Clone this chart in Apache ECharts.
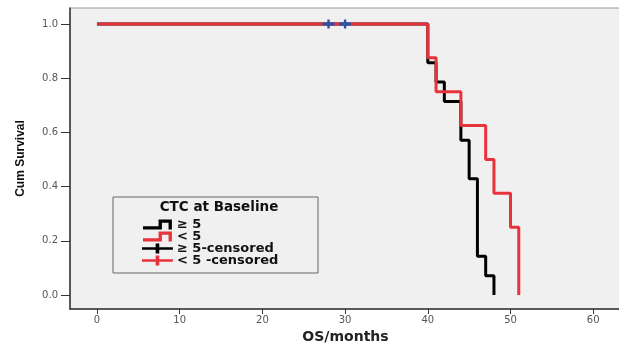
<!DOCTYPE html>
<html>
<head>
<meta charset="utf-8">
<script src="https://cdn.jsdelivr.net/npm/echarts@6/dist/echarts.min.js"></script>
<style>
    html, body { margin: 0; padding: 0; background: #fff; }
    #chart { width: 619px; height: 345px; }
</style>
</head>
<body>
<div id="chart"></div>
<script>
// 生存曲线数据 (月, 累计生存率)
var highCtc = [[0, 1], [40, 0.857], [41, 0.786], [42, 0.714], [44, 0.571], [45, 0.429], [46, 0.143], [47, 0.071], [48, 0]]
var lowCtc = [[0, 1], [40, 0.875], [41, 0.75], [44, 0.625], [47, 0.5], [48, 0.375], [50, 0.25], [51, 0]]
var censored = [[28, 1], [30, 1]]
var xTicks = [0, 10, 20, 30, 40, 50, 60]
var yTicks = [0, 0.2, 0.4, 0.6, 0.8, 1.0]
var legendNames = ['≥ 5', '< 5', '≥ 5-censored', '< 5 -censored']

var stepIcon = 'path://M0,7 L14,7 L14,1 L26,1 L26,10 L23,10 L23,4 L17,4 L17,10 L0,10 Z'
var crossIcon = 'path://M0,4 L15,4 L15,0 L19,0 L19,4 L34,4 L34,7 L19,7 L19,11 L15,11 L15,7 L0,7 Z'
var plusMark = 'path://M0,3 L4,3 L4,0 L6,0 L6,3 L10,3 L10,6 L6,6 L6,9 L4,9 L4,6 L0,6 Z'

var chart = echarts.init(document.getElementById('chart'))
var tickFont = { fontFamily: 'DejaVu Sans', fontSize: 10, color: '#555' }

//图例只用空的散点系列, 图标按自定义 path 画
function legendSeries(name, color) {
    return { name: name, type: 'scatter', data: [], itemStyle: { color: color, opacity: 1 } }
}

var option = {
    animation: false,
    backgroundColor: '#fff',
    grid: {
        left: 70,
        top: 8,
        right: -2,
        bottom: 36,
        outerBoundsMode: 'none',
        containLabel: false,
        show: true,
        backgroundColor: '#f0f0f0',
        borderColor: '#999',
        borderWidth: 1,
    },
    xAxis: {
        type: 'value',
        min: -3.26,
        max: 63.36,
        name: 'OS/months',
        nameLocation: 'middle',
        nameGap: 21,
        nameMoveOverlap: false,
        nameTextStyle: { fontFamily: 'DejaVu Sans', fontWeight: 'bold', fontSize: 14, color: '#222' },
        axisLine: { onZero: false, lineStyle: { color: '#333', width: 1.5 } },
        axisTick: { show: true, length: 5, customValues: xTicks, lineStyle: { color: '#333' } },
        axisLabel: Object.assign({ customValues: xTicks, margin: 6 }, tickFont),
        splitLine: { show: false },
    },
    yAxis: {
        type: 'value',
        min: -0.0517,
        max: 1.059,
        name: 'Cum Survival',
        nameLocation: 'middle',
        nameRotate: 90,
        nameGap: 43,
        nameMoveOverlap: false,
        nameTextStyle: { fontFamily: 'Liberation Sans', fontWeight: 'bold', fontSize: 12, color: '#111' },
        axisLine: { show: true, onZero: false, lineStyle: { color: '#333', width: 1.5 } },
        axisTick: { show: true, length: 9, customValues: yTicks, lineStyle: { color: '#333' } },
        axisLabel: Object.assign({
            customValues: yTicks,
            margin: 12,
            formatter: function (v) { return v.toFixed(1) }
        }, tickFont),
        splitLine: { show: false },
    },
    graphic: [
        {
            type: 'rect',
            shape: { x: 113, y: 197, width: 205, height: 76 },
            style: { fill: '#f0f0f0', stroke: '#666', lineWidth: 1 },
            z: 5,
        },
        {
            type: 'text',
            x: 219,
            y: 207,
            style: {
                text: 'CTC at Baseline',
                font: 'bold 13.5px "DejaVu Sans"',
                fill: '#111',
                align: 'center',
                verticalAlign: 'middle',
            },
            z: 6,
        },
    ],
    legend: {
        orient: 'vertical',
        left: 142,
        top: 218,
        padding: 0,
        itemGap: -1,
        itemWidth: 35,
        itemHeight: 10,
        z: 10,
        textStyle: {
            fontFamily: 'DejaVu Sans',
            fontWeight: 'bold',
            fontSize: 13,
            color: '#111',
            padding: [0, 0, 0, -3]
        },
        data: [
            { name: legendNames[0], icon: stepIcon },
            { name: legendNames[1], icon: stepIcon },
            { name: legendNames[2], icon: crossIcon },
            { name: legendNames[3], icon: crossIcon },
        ],
    },
    series: [
        {
            name: 'high-line',
            type: 'line',
            step: 'end',
            data: highCtc,
            showSymbol: false,
            lineStyle: { color: '#000', width: 3 },
        },
        {
            name: 'low-line',
            type: 'line',
            step: 'end',
            data: lowCtc,
            showSymbol: false,
            lineStyle: { color: '#e8323c', width: 3 },
        },
        legendSeries(legendNames[0], '#000'),
        legendSeries(legendNames[1], '#e8323c'),
        legendSeries(legendNames[2], '#000'),
        legendSeries(legendNames[3], '#e8323c'),
        {
            name: 'censored',
            type: 'scatter',
            data: censored,
            symbol: plusMark,
            symbolSize: [12, 9],
            itemStyle: { color: '#2e52a8', opacity: 1 },
            z: 5,
        },
    ],
}
chart.setOption(option)
</script>
</body>
</html>
